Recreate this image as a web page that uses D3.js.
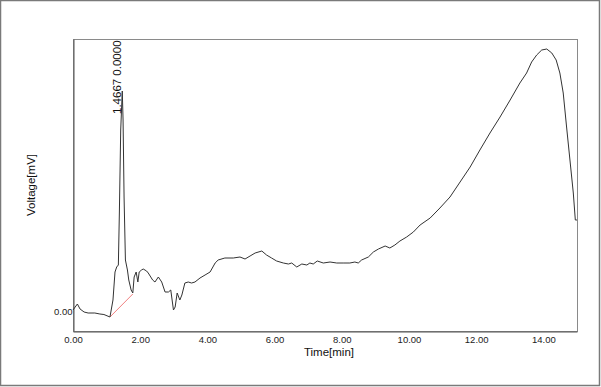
<!DOCTYPE html>
<html>
<head>
<meta charset="utf-8">
<script src="https://cdn.jsdelivr.net/npm/d3@7"></script>
<style>
  body { margin: 0; background: #fff; }
  svg { display: block; font-family: "Liberation Sans", Arial, sans-serif; }
</style>
</head>
<body>
<svg id="chart" width="601" height="387"></svg>
<script>
// chromatogram trace, time in minutes, signal in mV
var times = [0.00, 0.13, 0.21, 0.33, 0.45, 0.65, 0.80, 0.92, 1.10, 1.19, 1.25, 1.30, 1.35, 1.38, 1.42, 1.4667,
  1.49, 1.52, 1.56, 1.62, 1.66, 1.73, 1.78, 1.82, 1.88, 1.93, 1.97, 2.04, 2.09, 2.19, 2.24, 2.37, 2.44, 2.54,
  2.64, 2.74, 2.84, 2.91, 2.99, 3.04, 3.10, 3.18, 3.24, 3.33, 3.43, 3.53, 3.63, 3.78, 3.93, 4.08, 4.23, 4.32,
  4.52, 4.77, 4.97, 5.12, 5.27, 5.42, 5.62, 5.76, 5.91, 6.06, 6.26, 6.41, 6.51, 6.66, 6.81, 6.96, 7.05, 7.15,
  7.27, 7.45, 7.65, 7.85, 8.04, 8.24, 8.39, 8.49, 8.59, 8.79, 8.94, 9.09, 9.29, 9.43, 9.58, 9.73, 9.93, 10.13,
  10.33, 10.63, 10.92, 11.22, 11.52, 11.82, 12.11, 12.41, 12.71, 13.01, 13.30, 13.50, 13.65, 13.80, 13.95,
  14.10, 14.25, 14.38, 14.49, 14.59, 14.69, 14.79, 14.89, 14.95, 15.00];
var volts = [1, 7, 2, -1, -2, -2, -3, -3.5, -6, 11, 39, 44, 46, 98, 181, 220,
  191, 114, 51, 41, 31, 21, 18, 34, 39, 29, 39, 41, 42, 40, 38, 31, 29, 34,
  29, 19, 19, 21, 1, 4, 18, 11, 16, 28, 29, 28, 29, 33, 36, 39, 48, 51,
  53, 53, 54, 52, 55, 58, 60, 56, 53, 50, 48, 47, 48, 44, 47, 46, 48, 47,
  50, 48, 49, 48, 48, 48, 49, 48, 51, 54, 59, 62, 65, 63, 66, 70, 74, 79,
  86, 93, 103, 114, 129, 144, 161, 178, 194, 211, 228, 238, 249, 256, 261,
  262, 258, 251, 238, 218, 184, 151, 118, 91, 91];

// integration baseline under the peak
var baseTimes = [1.10, 1.78];
var baseVolts = [-6, 17];

var peakTime = 1.4667;
var peakLabel = "1.4667 0.0000";
var xTicks = [0, 2, 4, 6, 8, 10, 12, 14];
var yTicks = [0];

var svg = d3.select("#chart");
var pLeft = 73, pRight = 577, pTop = 39, pBottom = 331;

var x = d3.scaleLinear().domain([0, 15]).range([pLeft, pRight]);
var y = d3.scaleLinear().domain([-20, 272]).range([pBottom, pTop]);

// outer frame
svg.append("rect")
  .attr("x", 0.5).attr("y", 0.5).attr("width", 599).attr("height", 385)
  .attr("fill", "none").attr("stroke", "#7a7a7a").attr("stroke-width", 1.5);

// plot box
svg.append("rect")
  .attr("x", pLeft + 0.5).attr("y", pTop + 0.5)
  .attr("width", pRight - pLeft).attr("height", pBottom - pTop)
  .attr("fill", "none").attr("stroke", "#8a8a8a").attr("stroke-width", 1);

var xAxis = svg.append("g")
  .attr("transform", "translate(0," + (pBottom + 0.5) + ")")
  .call(d3.axisBottom(x).tickValues(xTicks).tickFormat(d3.format(".2f")).tickSize(0).tickPadding(5));
xAxis.select(".domain").attr("stroke", "#555");
xAxis.selectAll("text").attr("font-size", 9.5).attr("fill", "#222")
  .attr("font-family", "Liberation Sans Narrow, Liberation Sans, sans-serif");

var yAxis = svg.append("g")
  .attr("transform", "translate(" + (pLeft + 0.5) + ",0)")
  .call(d3.axisLeft(y).tickValues(yTicks).tickFormat(d3.format(".2f")).tickSize(0).tickPadding(1));
yAxis.select(".domain").attr("stroke", "#555");
yAxis.selectAll("text").attr("font-size", 9.5).attr("fill", "#222")
  .attr("font-family", "Liberation Sans Narrow, Liberation Sans, sans-serif");

svg.append("text")
  .attr("x", (pLeft + pRight) / 2 + 4).attr("y", 356)
  .attr("text-anchor", "middle").attr("font-size", 11.5).attr("fill", "#111")
  .text("Time[min]");

svg.append("text")
  .attr("transform", "translate(35," + ((pTop + pBottom) / 2) + ") rotate(-90)")
  .attr("text-anchor", "middle").attr("font-size", 11.5).attr("fill", "#111")
  .text("Voltage[mV]");

var pts = times.map(function(t, i) { return [t, volts[i]]; });
var line = d3.line().x(function(d) { return x(d[0]); }).y(function(d) { return y(d[1]); });

svg.append("path")
  .datum(baseTimes.map(function(t, i) { return [t, baseVolts[i]]; }))
  .attr("d", line)
  .attr("fill", "none").attr("stroke", "#f08080").attr("stroke-width", 1);

svg.append("path")
  .datum(pts)
  .attr("d", line)
  .attr("fill", "none").attr("stroke", "#333").attr("stroke-width", 1);

svg.append("text")
  .attr("transform", "translate(" + (x(peakTime) - 1) + ",114) rotate(-90)")
  .attr("text-anchor", "start").attr("font-size", 11.5).attr("fill", "#111")
  .text(peakLabel);
</script>
</body>
</html>
